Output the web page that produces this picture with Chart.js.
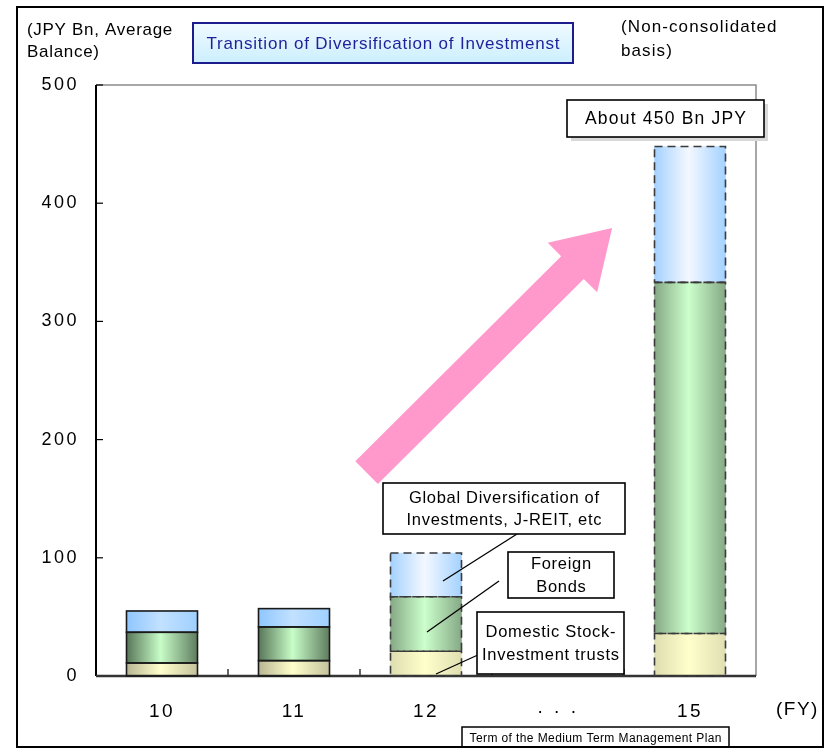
<!DOCTYPE html>
<html>
<head>
<meta charset="utf-8">
<script src="https://cdn.jsdelivr.net/npm/chart.js@4/dist/chart.umd.min.js"></script>
<style>
  html, body { margin: 0; padding: 0; background: #fff; }
  #wrap { width: 828px; height: 750px; }
</style>
</head>
<body>
<div id="wrap"><canvas id="c" width="828" height="750"></canvas></div>
<script>
// Fiscal years on the category axis ("· · ·" marks the skipped years)
const years = ['10', '11', '12', '· · ·', '15'];
// Average balances, JPY Bn
const domesticStockFunds = [11, 13, 21, null, 36];
const foreignBonds = [26, 28.5, 46, null, 297];
const globalDiversification = [18, 15.5, 37, null, 115];
const yTickValues = [0, 100, 200, 300, 400, 500];
// Years belonging to the medium term plan (drawn with dashed outlines)
const planYears = [false, false, true, false, true];

const FONT = '"Liberation Sans", Arial, sans-serif';
const BAR_W = 71;

// Horizontal "cylinder" shading for each series: [edge, centre, edge]
const shades = {
  blue:   { actual: ['#8fc6ff', '#c2e1ff', '#9fd0ff'], plan: ['#a4d2ff', '#f4f8ff', '#a4d2ff'] },
  green:  { actual: ['#587658', '#c8fdc8', '#5f7c5f'], plan: ['#86a986', '#ccffcc', '#86a986'] },
  yellow: { actual: ['#b7b692', '#ffffcc', '#c4c29c'], plan: ['#deddb0', '#ffffcc', '#e0dfb2'] }
};

function shadeFill(key) {
  return (ctx) => {
    const chart = ctx.chart;
    const set = planYears[ctx.dataIndex] ? shades[key].plan : shades[key].actual;
    const xs = chart.scales && chart.scales.x;
    if (!xs || !chart.chartArea) return set[1];
    const xc = xs.getPixelForValue(ctx.dataIndex);
    const g = chart.ctx.createLinearGradient(xc - BAR_W / 2, 0, xc + BAR_W / 2, 0);
    g.addColorStop(0, set[0]);
    g.addColorStop(0.48, set[1]);
    g.addColorStop(1, set[2]);
    return g;
  };
}

// Spaced-out lettering used throughout the figure
const spacingPlugin = {
  id: 'spacing',
  beforeDraw(chart) { chart.ctx.letterSpacing = '2.5px'; }
};

// Frame, inward tick marks and category separators
const framePlugin = {
  id: 'frame',
  beforeDatasetsDraw(chart) {
    const { ctx, chartArea: a, scales } = chart;
    ctx.save();
    ctx.strokeStyle = '#8a8a8a';
    ctx.lineWidth = 1.5;
    ctx.beginPath();
    ctx.moveTo(a.left, a.top); ctx.lineTo(a.right, a.top); ctx.lineTo(a.right, a.bottom);
    ctx.stroke();
    ctx.strokeStyle = '#000';
    ctx.lineWidth = 1.2;
    yTickValues.forEach(v => {
      const y = scales.y.getPixelForValue(v);
      ctx.beginPath(); ctx.moveTo(a.left, y); ctx.lineTo(a.left + 7, y); ctx.stroke();
    });
    for (let i = 1; i < years.length; i++) {
      const x = (scales.x.getPixelForValue(i - 1) + scales.x.getPixelForValue(i)) / 2;
      ctx.beginPath(); ctx.moveTo(x, a.bottom); ctx.lineTo(x, a.bottom - 7); ctx.stroke();
    }
    ctx.restore();
  },
  afterDatasetsDraw(chart) {
    const { ctx, chartArea: a } = chart;
    ctx.save();
    ctx.strokeStyle = '#000';
    ctx.lineWidth = 2;
    ctx.beginPath(); ctx.moveTo(a.left, a.top); ctx.lineTo(a.left, a.bottom); ctx.stroke();
    ctx.strokeStyle = '#333';
    ctx.lineWidth = 2.5;
    ctx.beginPath(); ctx.moveTo(a.left, a.bottom); ctx.lineTo(a.right, a.bottom); ctx.stroke();
    ctx.restore();
  }
};

// Segment outlines: solid for actual years, dashed for plan years
const outlinePlugin = {
  id: 'outlines',
  afterDatasetsDraw(chart) {
    const ctx = chart.ctx;
    ctx.save();
    chart.data.datasets.forEach((ds, di) => {
      const meta = chart.getDatasetMeta(di);
      meta.data.forEach((el, i) => {
        if (ds.data[i] == null) return;
        const p = el.getProps(['x', 'y', 'base', 'width'], true);
        const left = p.x - p.width / 2;
        const top = Math.min(p.y, p.base);
        const h = Math.abs(p.base - p.y);
        ctx.lineWidth = 1.6;
        if (planYears[i]) {
          ctx.strokeStyle = '#3a3a3a';
          ctx.setLineDash([8, 5]);
        } else {
          ctx.strokeStyle = '#1a1a1a';
          ctx.setLineDash([]);
        }
        ctx.strokeRect(left, top, p.width, h);
      });
    });
    ctx.restore();
  }
};

// Growth arrow, anchored in data space (category index, JPY Bn)
const arrowFrom = { x: 1.55, y: 172 };
const arrowTo = { x: 3.41, y: 379 };

// Callout boxes
const callouts = [
  { box: [383, 483, 242, 51], lines: ['Global Diversification of', 'Investments, J-REIT, etc'], leader: [[517, 534], [443, 581]] },
  { box: [508, 552, 106, 46], lines: ['Foreign', 'Bonds'], leader: [[499, 581], [427, 632]] },
  { box: [477, 612, 147, 62], lines: ['Domestic Stock-', 'Investment trusts'], leader: [[480, 654], [436, 674]] },
  { box: [567, 100, 197, 37], lines: ['About 450 Bn JPY'], big: true, shadow: true }
];

function spacedText(ctx, text, x, y, spacing) {
  ctx.letterSpacing = spacing + 'px';
  // trailing spacing would push centred text left; compensate
  const off = ctx.textAlign === 'center' ? spacing / 2 : (ctx.textAlign === 'right' ? spacing : 0);
  ctx.fillText(text, x + off, y);
}

const annotationPlugin = {
  id: 'annotations',
  afterDatasetsDraw(chart) {
    const { ctx, scales } = chart;
    ctx.save();
    const tx = scales.x.getPixelForValue(arrowFrom.x), ty = scales.y.getPixelForValue(arrowFrom.y);
    const hx = scales.x.getPixelForValue(arrowTo.x), hy = scales.y.getPixelForValue(arrowTo.y);
    const len = Math.hypot(hx - tx, hy - ty);
    const dx = (hx - tx) / len, dy = (hy - ty) / len;
    const nx = -dy, ny = dx;
    const sw = 16, hw = 35, hl = 56;
    const bx = hx - dx * hl, by = hy - dy * hl;
    ctx.fillStyle = '#ff99cc';
    ctx.beginPath();
    ctx.moveTo(tx + nx * sw, ty + ny * sw);
    ctx.lineTo(bx + nx * sw, by + ny * sw);
    ctx.lineTo(bx + nx * hw, by + ny * hw);
    ctx.lineTo(hx, hy);
    ctx.lineTo(bx - nx * hw, by - ny * hw);
    ctx.lineTo(bx - nx * sw, by - ny * sw);
    ctx.lineTo(tx - nx * sw, ty - ny * sw);
    ctx.closePath();
    ctx.fill();

    callouts.forEach(c => {
      const [x, y, w, h] = c.box;
      if (c.leader) {
        ctx.strokeStyle = '#000';
        ctx.lineWidth = 1.3;
        ctx.beginPath();
        ctx.moveTo(c.leader[0][0], c.leader[0][1]);
        ctx.lineTo(c.leader[1][0], c.leader[1][1]);
        ctx.stroke();
      }
      if (c.shadow) {
        ctx.fillStyle = '#d8d8d8';
        ctx.fillRect(x + 4, y + 4, w, h);
      }
      ctx.fillStyle = '#fff';
      ctx.fillRect(x, y, w, h);
      ctx.strokeStyle = '#000';
      ctx.lineWidth = 1.6;
      ctx.strokeRect(x, y, w, h);
      ctx.fillStyle = '#000';
      ctx.font = (c.big ? 17.5 : 16.5) + 'px ' + FONT;
      ctx.textAlign = 'center';
      ctx.textBaseline = 'middle';
      const lh = 22.5;
      const y0 = y + h / 2 - lh * (c.lines.length - 1) / 2 + 1;
      c.lines.forEach((t, k) => spacedText(ctx, t, x + w / 2, y0 + k * lh, c.big ? 1.2 : 0.7));
    });
    ctx.restore();
  },
  afterDraw(chart) {
    const ctx = chart.ctx;
    ctx.save();
    ctx.fillStyle = '#000';
    ctx.textBaseline = 'middle';
    ctx.textAlign = 'left';
    ctx.font = '17px ' + FONT;
    spacedText(ctx, '(JPY Bn, Average', 27, 30, 0.7);
    spacedText(ctx, 'Balance)', 27, 52, 0.7);
    spacedText(ctx, '(Non-consolidated', 621, 27, 1.1);
    spacedText(ctx, 'basis)', 621, 51, 1.1);
    ctx.font = '19px ' + FONT;
    spacedText(ctx, '(FY)', 776, 710, 1.5);

    // title box
    const tg = ctx.createLinearGradient(0, 23, 0, 63);
    tg.addColorStop(0, '#f0faff');
    tg.addColorStop(1, '#ccefff');
    ctx.fillStyle = tg;
    ctx.fillRect(193, 23, 380, 40);
    ctx.strokeStyle = '#1c1c8f';
    ctx.lineWidth = 2;
    ctx.strokeRect(193, 23, 380, 40);
    ctx.fillStyle = '#1f1f99';
    ctx.textAlign = 'center';
    ctx.font = '17px ' + FONT;
    spacedText(ctx, 'Transition of Diversification of Investmenst', 383, 44, 0.8);

    // plan term box at the bottom
    ctx.fillStyle = '#fff';
    ctx.fillRect(462, 727, 267, 30);
    ctx.strokeStyle = '#000';
    ctx.lineWidth = 1.5;
    ctx.strokeRect(462, 727, 267, 30);
    ctx.fillStyle = '#000';
    ctx.font = '12px ' + FONT;
    spacedText(ctx, 'Term of the Medium Term Management Plan', 595.5, 739, 0.4);

    // outer frame
    ctx.fillStyle = '#fff';
    ctx.fillRect(0, 748, 828, 2);
    ctx.strokeStyle = '#000';
    ctx.lineWidth = 2;
    ctx.strokeRect(17, 7, 806, 740);
    ctx.restore();
  }
};

new Chart(document.getElementById('c'), {
  type: 'bar',
  data: {
    labels: years,
    datasets: [
      { label: 'Domestic Stock-Investment trusts', data: domesticStockFunds, backgroundColor: shadeFill('yellow'), borderWidth: 0, barThickness: BAR_W, stack: 's' },
      { label: 'Foreign Bonds', data: foreignBonds, backgroundColor: shadeFill('green'), borderWidth: 0, barThickness: BAR_W, stack: 's' },
      { label: 'Global Diversification of Investments, J-REIT, etc', data: globalDiversification, backgroundColor: shadeFill('blue'), borderWidth: 0, barThickness: BAR_W, stack: 's' }
    ]
  },
  options: {
    responsive: false,
    animation: false,
    events: [],
    layout: { padding: { top: 85, right: 72, left: 0, bottom: 0 } },
    plugins: { legend: { display: false }, tooltip: { enabled: false } },
    scales: {
      x: {
        stacked: true,
        grid: { display: false, drawTicks: false },
        border: { display: false },
        ticks: { color: '#000', font: { family: FONT, size: 19 }, padding: 24, maxRotation: 0, autoSkip: false },
        afterFit: s => { s.height = 74; }
      },
      y: {
        stacked: true,
        min: 0,
        max: 500,
        grid: { display: false, drawTicks: false },
        border: { display: false },
        ticks: { stepSize: 100, color: '#000', font: { family: FONT, size: 18 }, padding: 17 },
        afterFit: s => { s.width = 96; }
      }
    }
  },
  plugins: [spacingPlugin, framePlugin, outlinePlugin, annotationPlugin]
});
</script>
</body>
</html>
